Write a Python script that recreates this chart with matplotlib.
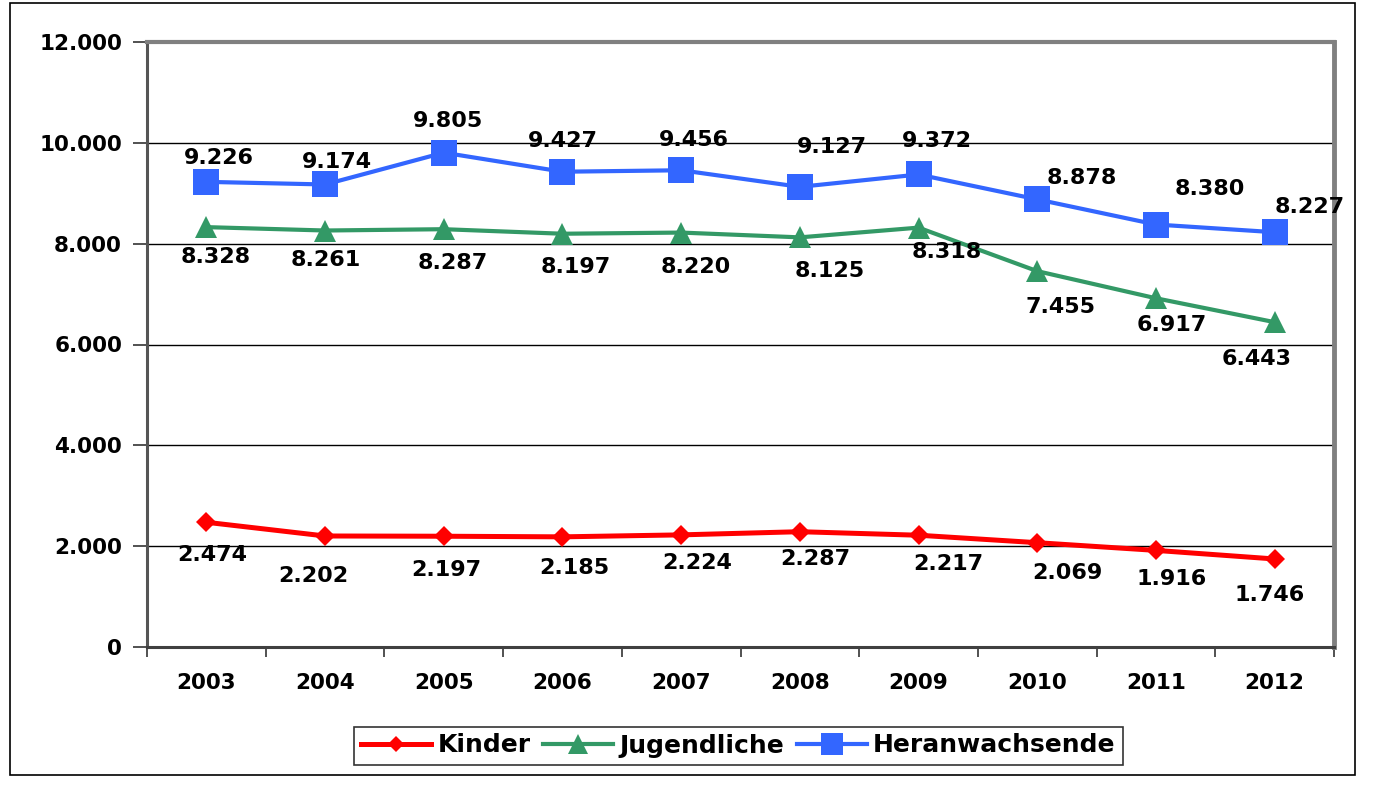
"""
plot.py  --  Kinder / Jugendliche / Heranwachsende, 2003-2012 (line chart, Excel look).
"""

import matplotlib
matplotlib.use("Agg")
import matplotlib.pyplot as plt
from matplotlib.patches import Rectangle
from matplotlib.ticker import FixedLocator, FuncFormatter

years = ["2003", "2004", "2005", "2006", "2007", "2008", "2009", "2010", "2011", "2012"]
kinder = [2474, 2202, 2197, 2185, 2224, 2287, 2217, 2069, 1916, 1746]
jugendliche = [8328, 8261, 8287, 8197, 8220, 8125, 8318, 7455, 6917, 6443]
heranwachsende = [9226, 9174, 9805, 9427, 9456, 9127, 9372, 8878, 8380, 8227]
y_ticks = [0, 2000, 4000, 6000, 8000, 10000, 12000]

# label offsets in pixels (dx, dy up), placed by hand like in the source chart
off_kinder = [(6, -33), (-12, -40), (3, -34), (12, -31), (16, -28), (15, -27),
              (30, -29), (30, -30), (16, -29), (-5, -36)]
off_jug = [(9, -30), (1, -29), (9, -34), (13, -33), (15, -34), (30, -34),
           (28, -24), (23, -36), (16, -27), (-18, -37)]
off_her = [(13, 24), (12, 22), (4, 32), (0, 31), (13, 30), (32, 40),
           (18, 33), (45, 21), (54, 36), (35, 25)]

RED, GREEN, BLUE = "#FF0000", "#339966", "#3366FF"
FONT = "DejaVu Sans"


def de(v, _pos=None):
    """German thousands separator: 12000 -> 12.000"""
    return f"{int(v):,}".replace(",", ".")


fig = plt.figure(figsize=(13.96, 7.88), dpi=100)
ax = fig.add_axes([147 / 1396, 1 - 647 / 788, (1334 - 147) / 1396, (647 - 42) / 788])

x = list(range(len(years)))
# name, values, colour, marker, size in plot, size in legend, line width, label offsets
series = [
    ("Kinder", kinder, RED, "D", 10, 7.8, 3.6, off_kinder),
    ("Jugendliche", jugendliche, GREEN, "^", 16.5, 15, 3.0, off_jug),
    ("Heranwachsende", heranwachsende, BLUE, "s", 19, 16, 3.0, off_her),
]
for name, vals, col, mk, ms, _, lw, offs in series:
    ax.plot(x, vals, color=col, marker=mk, markersize=ms, lw=lw, label=name,
            markeredgewidth=0, solid_joinstyle="round", zorder=3)
    for xi, v, (dx, dy) in zip(x, vals, offs):
        ax.annotate(de(v), (xi, v), xytext=(dx, dy), textcoords="offset pixels",
                    ha="center", va="center", fontsize=16, fontweight="bold",
                    family=FONT, color="black", zorder=4)

ax.set_xlim(-0.5, len(years) - 0.5)
ax.set_ylim(0, 12000)
ax.set_yticks(y_ticks)
ax.yaxis.set_major_formatter(FuncFormatter(de))
ax.grid(axis="y", color="black", lw=1.0, zorder=1)
ax.set_axisbelow(True)

# category labels without ticks, tick marks between categories
ax.set_xticks(x)
ax.set_xticklabels(years)
ax.xaxis.set_minor_locator(FixedLocator([i - 0.5 for i in range(len(years) + 1)]))
ax.tick_params(axis="x", which="major", length=0, pad=19)
ax.tick_params(axis="x", which="minor", length=7, width=1.2, color="#333333")
ax.tick_params(axis="y", length=10, width=1.2, color="#333333", pad=8)
for lab in ax.get_xticklabels() + ax.get_yticklabels():
    lab.set_fontsize(15.5)
    lab.set_fontweight("bold")
    lab.set_family(FONT)

ax.spines["top"].set_color("#808080"); ax.spines["top"].set_linewidth(3)
ax.spines["right"].set_color("#808080"); ax.spines["right"].set_linewidth(3.5)
ax.spines["left"].set_color("#555555"); ax.spines["left"].set_linewidth(2.2)
ax.spines["bottom"].set_color("#404040"); ax.spines["bottom"].set_linewidth(2.2)

leg = fig.legend(loc="center", bbox_to_anchor=(738.5 / 1396, 1 - 745.5 / 788), ncol=3,
                 prop={"family": FONT, "weight": "bold", "size": 18},
                 frameon=True, fancybox=False, edgecolor="black", handlelength=2.8,
                 handletextpad=0.25, columnspacing=0.5, borderpad=0.28, borderaxespad=0)
leg.get_frame().set_linewidth(1.2)
for h, s in zip(leg.legend_handles, series):
    h.set_markersize(s[5])

# outer chart frame
fig.patches.append(Rectangle((10 / 1396, 1 - 775 / 788), (1355 - 10) / 1396, (775 - 3) / 788,
                             transform=fig.transFigure, fill=False, edgecolor="black",
                             lw=1.2, zorder=0))

fig.savefig("out.png", dpi=100)
